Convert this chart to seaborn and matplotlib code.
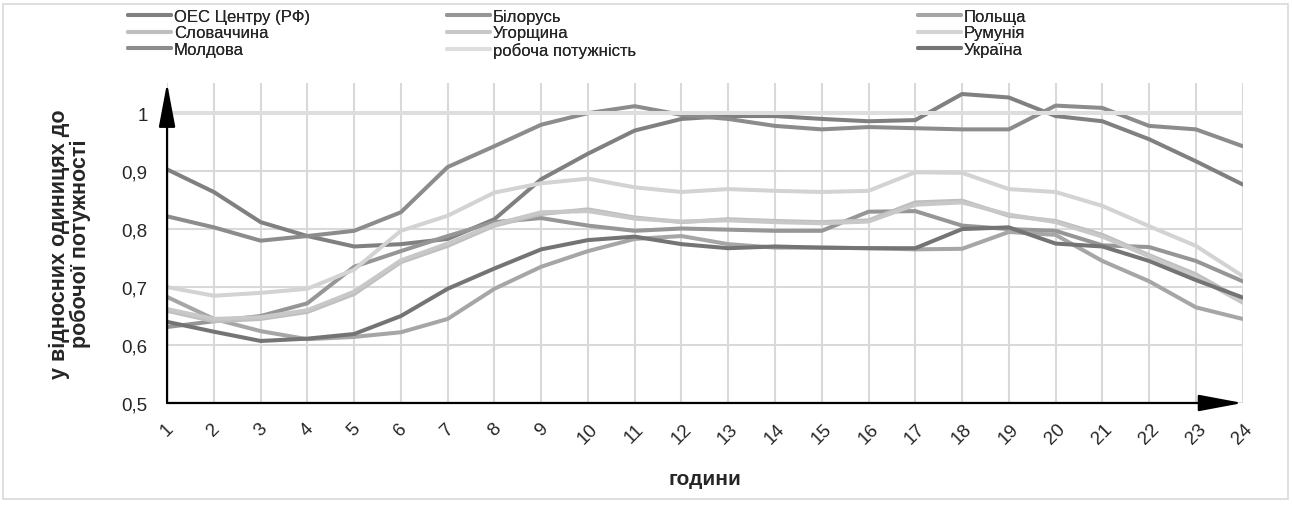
import numpy as np
import pandas as pd
import seaborn as sns
import matplotlib
matplotlib.use("Agg")
import matplotlib.pyplot as plt
from matplotlib.lines import Line2D
from matplotlib.patches import Rectangle

# hours 1..24
hours = list(range(1, 25))
hour_labels = [str(h) for h in hours]

oes = [0.903, 0.864, 0.812, 0.788, 0.770, 0.774, 0.783, 0.817, 0.886, 0.930, 0.970, 0.990,
       0.995, 0.995, 0.990, 0.986, 0.988, 1.033, 1.027, 0.995, 0.986, 0.955, 0.917, 0.877]
belarus = [0.631, 0.641, 0.650, 0.672, 0.735, 0.762, 0.788, 0.812, 0.819, 0.806, 0.797, 0.801,
           0.799, 0.797, 0.797, 0.830, 0.831, 0.806, 0.800, 0.797, 0.772, 0.769, 0.745, 0.710]
poland = [0.683, 0.645, 0.624, 0.610, 0.614, 0.622, 0.645, 0.697, 0.735, 0.762, 0.783, 0.788,
          0.774, 0.768, 0.768, 0.767, 0.765, 0.766, 0.795, 0.790, 0.745, 0.710, 0.665, 0.645]
slovakia = [0.659, 0.641, 0.645, 0.657, 0.688, 0.743, 0.771, 0.806, 0.826, 0.834, 0.820, 0.812,
            0.817, 0.814, 0.812, 0.815, 0.846, 0.849, 0.823, 0.814, 0.790, 0.755, 0.722, 0.677]
hungary = [0.662, 0.645, 0.648, 0.660, 0.692, 0.746, 0.775, 0.808, 0.829, 0.831, 0.818, 0.813,
           0.815, 0.812, 0.810, 0.813, 0.842, 0.846, 0.825, 0.812, 0.787, 0.753, 0.718, 0.673]
romania = [0.700, 0.685, 0.690, 0.697, 0.730, 0.797, 0.823, 0.863, 0.879, 0.887, 0.872, 0.864,
           0.869, 0.866, 0.864, 0.866, 0.898, 0.897, 0.869, 0.864, 0.840, 0.805, 0.771, 0.719]
moldova = [0.822, 0.803, 0.780, 0.788, 0.797, 0.829, 0.907, 0.943, 0.980, 1.000, 1.012, 0.997,
           0.990, 0.978, 0.972, 0.976, 0.974, 0.972, 0.972, 1.013, 1.009, 0.978, 0.972, 0.943]
capacity = [1.0] * 24
ukraine = [0.640, 0.623, 0.607, 0.611, 0.619, 0.650, 0.697, 0.732, 0.765, 0.781, 0.787, 0.774,
           0.767, 0.770, 0.768, 0.767, 0.767, 0.800, 0.803, 0.775, 0.770, 0.745, 0.712, 0.682]

names = ["ОЕС Центру (РФ)", "Білорусь", "Польща", "Словаччина", "Угорщина", "Румунія",
         "Молдова", "робоча потужність", "Україна"]
series = [oes, belarus, poland, slovakia, hungary, romania, moldova, capacity, ukraine]
colors = ["#808080", "#969696", "#a6a6a6", "#bfbfbf", "#c8c8c8", "#d3d3d3",
          "#8c8c8c", "#dedede", "#747474"]
palette = dict(zip(names, colors))

df = pd.DataFrame({
    "hour": hours * len(names),
    "value": sum(series, []),
    "name": [n for n in names for _ in hours],
})

sns.set_style("white")
plt.rcParams["font.family"] = ["Liberation Sans", "DejaVu Sans"]

fig = plt.figure(figsize=(12.92, 5.06), dpi=100)
ax = fig.add_axes([0.1293, 0.2016, 0.8325, 0.6324])

ax.set_xlim(1, 24)
ax.set_ylim(0.5, 1.052)
ax.set_xticks(hours)
ax.set_xticklabels(hour_labels, rotation=45, ha="center", va="top", fontsize=13.5)
yt = [0.5, 0.6, 0.7, 0.8, 0.9, 1.0]
ax.set_yticks(yt)
ax.set_yticklabels(["0,5", "0,6", "0,7", "0,8", "0,9", "1"], fontsize=13.5)
ax.tick_params(axis="both", length=0)
ax.tick_params(axis="x", pad=12)
ax.tick_params(axis="y", pad=14)
ax.grid(True, color="#d9d9d9", lw=1.5)
ax.set_axisbelow(True)
for s in ax.spines.values():
    s.set_visible(False)

sns.lineplot(data=df, x="hour", y="value", hue="name", hue_order=names,
             palette=palette, lw=2.9, legend=False, ax=ax, zorder=3)

# axis arrows
ax.annotate("", xy=(0, 1.0), xytext=(0, 0), xycoords="axes fraction",
            arrowprops=dict(arrowstyle="-|>,head_length=1.6,head_width=0.3",
                            lw=1.6, color="black", mutation_scale=17, shrinkA=0, shrinkB=0),
            zorder=5)
ax.annotate("", xy=(1.0, 0), xytext=(0, 0), xycoords="axes fraction",
            arrowprops=dict(arrowstyle="-|>,head_length=1.6,head_width=0.3",
                            lw=1.6, color="black", mutation_scale=17, shrinkA=0, shrinkB=0),
            zorder=5)

ax.set_xlabel("години", fontsize=15, fontweight="bold", labelpad=16)
ax.set_ylabel("у відносних одиницях до\nробочої потужності", fontsize=15.5,
              fontweight="bold", labelpad=22, linespacing=1.0)

# legend, three columns
handles = {n: Line2D([], [], color=palette[n], lw=2.9) for n in names}
cols = [(names[0::3], 128), (names[1::3], 447), (names[2::3], 918)]
for col_names, px in cols:
    leg = fig.legend([handles[n] for n in col_names], col_names, loc="upper left",
                     bbox_to_anchor=(px / 1292, 0.98), frameon=False, fontsize=12,
                     borderpad=0, borderaxespad=0, handlelength=2.6, handletextpad=0.15,
                     labelspacing=0.08)
    fig.add_artist(leg)

fig.add_artist(Rectangle((0.002, 0.012), 0.995, 0.978, transform=fig.transFigure,
                         fill=False, edgecolor="#d9d9d9", lw=1.2))

fig.savefig("out.png", dpi=100, facecolor="white")
